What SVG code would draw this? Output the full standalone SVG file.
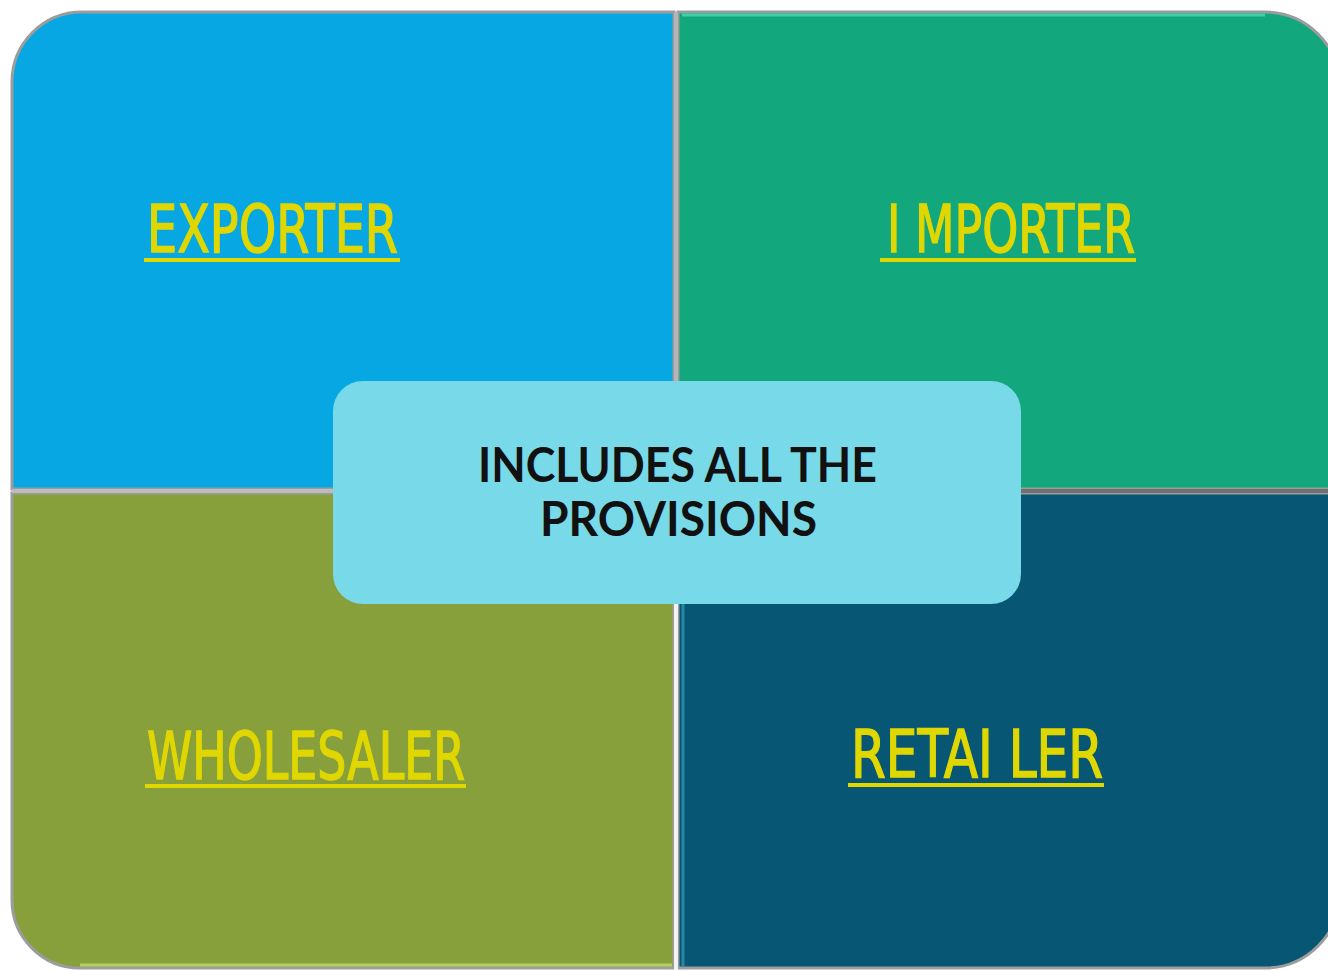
<svg xmlns="http://www.w3.org/2000/svg" width="1328" height="971" viewBox="0 0 1328 971">
<style>
.quad{stroke:#9c9c9c;stroke-width:3}
.lbl{font-family:"Liberation Sans Narrow","DejaVu Sans Condensed","Liberation Sans",sans-serif;font-size:66px;fill:#E1D700;stroke:#E1D700;stroke-width:1.4}
.ul{fill:#E1D700}
.ctr{font-family:"Lato","Liberation Sans",sans-serif;font-weight:bold;font-size:47px;fill:#111}
</style>
<rect width="1328" height="971" fill="#ffffff"/>
<g id="exporter">
<path class="quad" d="M12,82 A70,70 0 0 1 82,12 L674,12 L674,489 L12,489 Z" fill="#06A7E2"/>
<text class="lbl" x="147" y="252" textLength="251" lengthAdjust="spacingAndGlyphs">EXPORTER</text>
<rect class="ul" x="144" y="258" width="256" height="4"/>
</g>
<g id="importer">
<path class="quad" d="M678,12 L1265,12 A75,75 0 0 1 1340,87 L1340,489 L678,489 Z" fill="#13A77D"/>
<path fill="none" stroke="#3fd0a8" stroke-width="3" d="M682,15 L1265,15"/>
<text class="lbl" x="887" y="252" textLength="248" lengthAdjust="spacingAndGlyphs">I MPORTER</text>
<rect class="ul" x="880" y="258" width="256" height="4"/>
</g>
<g id="wholesaler">
<path class="quad" d="M12,493 L674,493 L674,968 L80,968 A68,68 0 0 1 12,900 Z" fill="#88A03B"/>
<path fill="none" stroke="#b4d060" stroke-width="3" d="M80,965 L672,965"/>
<text class="lbl" x="147" y="779" textLength="318" lengthAdjust="spacingAndGlyphs">WHOLESALER</text>
<rect class="ul" x="145" y="784" width="321" height="4"/>
</g>
<g id="retailer">
<path class="quad" d="M678,493 L1340,493 L1340,893 A75,75 0 0 1 1265,968 L678,968 Z" fill="#065674"/>
<path fill="none" stroke="#2a86a6" stroke-width="3" d="M683,497 L683,966"/>
<text class="lbl" x="851" y="777" textLength="252" lengthAdjust="spacingAndGlyphs">RETAI LER</text>
<rect class="ul" x="848" y="783" width="256" height="4"/>
</g>
<g id="dividers">
<rect x="674" y="12" width="4" height="478" fill="#b5b5b5"/>
<rect x="674" y="490" width="4" height="480" fill="#f2f2f2"/>
<rect x="12" y="489" width="662" height="4" fill="#bdbdbd"/>
<rect x="678" y="489" width="662" height="4" fill="#707070"/>
</g>
<g id="provisions">
<rect x="333" y="381" width="688" height="223" rx="30" fill="#78D9E9"/>
<text class="ctr" x="478" y="482" textLength="399" lengthAdjust="spacingAndGlyphs">INCLUDES ALL THE</text>
<text class="ctr" x="540" y="536" textLength="277" lengthAdjust="spacingAndGlyphs">PROVISIONS</text>
</g>
</svg>
